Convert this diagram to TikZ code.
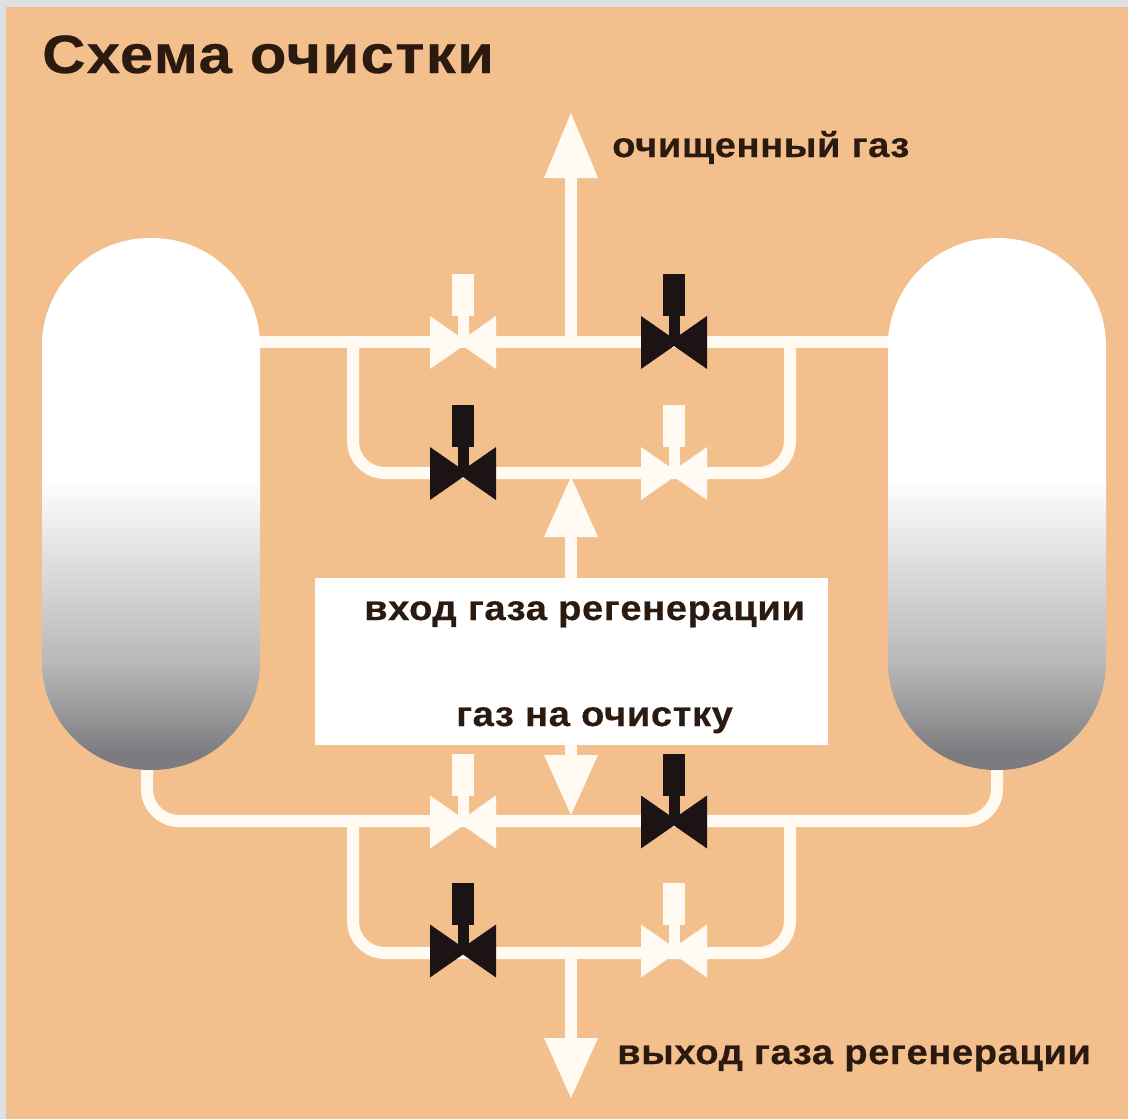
\documentclass[tikz,border=0pt]{standalone}
\usepackage{fontspec}
\setmainfont{Liberation Sans}
\newfontfamily\labelfont[FakeStretch=1.09,LetterSpace=1.7,FakeBold=0.4]{Liberation Sans Bold}
\newfontfamily\titlefont[FakeStretch=1.11,LetterSpace=2.4,FakeBold=0.4]{Liberation Sans Bold}
\definecolor{tankb}{HTML}{7C7C80}
\definecolor{tankc}{HTML}{B8B8B8}
\definecolor{tankd}{HTML}{E0E0E0}
\definecolor{peach}{HTML}{F3C08D}
\definecolor{frame}{HTML}{DDE1E3}
\definecolor{pipe}{HTML}{FFFAF2}
\definecolor{ink}{HTML}{2B1A10}
\definecolor{valvedark}{HTML}{1C1414}
\pgfdeclareverticalshading{tankshade}{100bp}{color(0bp)=(tankb); color(26.5bp)=(tankb); color(35bp)=(tankc); color(45bp)=(tankd); color(52.5bp)=(white); color(100bp)=(white)}
\tikzset{
  x=1pt,y=-1pt,
  vessel/.style={rounded corners=108pt,minimum width=218pt,minimum height=532pt,inner sep=0pt,shade,shading=tankshade},
  pipeline/.style={draw=pipe,line width=12pt},
  pipebend/.style={pipeline,rounded corners=32pt},
  txtlabel/.style={anchor=base west,inner sep=0pt,text=ink,font=\labelfont\fontsize{35}{40}\selectfont},
  arrowhd/.style={fill=pipe},
  pics/valve/.style={code={
    \fill[#1] (-33,-26) -- (0,-3) -- (33,-26) -- (33,27) -- (0,4) -- (-33,27) -- cycle;
    \fill[#1] (-5.5,-30) rectangle (5.5,2);
    \fill[#1] (-11,-68) rectangle (11,-26);
  }}
}
\begin{document}
\begin{tikzpicture}
\useasboundingbox (0,0) rectangle (1128,1119);
\fill[frame] (0,0) rectangle (1128,1119);
\fill[peach] (6,7) rectangle (1128,1119);
% fixed points
\coordinate (v1) at (463,342);
\coordinate (v2) at (674,342);
\coordinate (v3) at (463,473);
\coordinate (v4) at (674,473);
\coordinate (v5) at (463,821.5);
\coordinate (v6) at (674,821.5);
\coordinate (v7) at (463,950.5);
\coordinate (v8) at (674,950.5);
\coordinate (topT) at (571,342);
\coordinate (midT) at (571,473);
\coordinate (lowT) at (571,821);
\coordinate (botT) at (571,953);
\coordinate (topEnd) at (571,113);
\coordinate (botEnd) at (571,1098);
% pipes
\draw[pipebend] (147,760) -- (147,821) -- (997,821) -- (997,760);
\draw[pipeline] (151,342) -- (997,342);
\draw[pipebend] (353,342) -- (353,473) -- (790,473) -- (790,342);
\draw[pipebend] (353,821) -- (353,953) -- (790,953) -- (790,821);
\draw[pipeline] (topT) -- (571,170);
\draw[pipeline] (botT) -- (571,1045);
% tanks
\node[vessel] (tl) at (151,504) {};
\node[vessel] (tr) at (997,504) {};
% box
\node[fill=white,minimum width=513pt,minimum height=167pt,inner sep=0pt] (box) at (571.5,661.5) {};
\draw[pipeline] (box.north-|midT) -- (571,530);
\draw[pipeline] (box.south-|lowT) -- (571,765);
% arrow heads
\fill[arrowhd] (topEnd) -- (598,178) -- (544,178) -- cycle;
\fill[arrowhd] (571,477) -- (598,537) -- (544,537) -- cycle;
\fill[arrowhd] (571,815) -- (598,755) -- (544,755) -- cycle;
\fill[arrowhd] (botEnd) -- (598,1038) -- (544,1038) -- cycle;
% valves
\pic at (v1) {valve=pipe};
\pic at (v2) {valve=valvedark};
\pic at (v3) {valve=valvedark};
\pic at (v4) {valve=pipe};
\pic at (v5) {valve=pipe};
\pic at (v6) {valve=valvedark};
\pic at (v7) {valve=valvedark};
\pic at (v8) {valve=pipe};
% labels
\node[txtlabel,font=\titlefont\fontsize{54}{60}\selectfont] (title) at (42,73) {Схема очистки};
\node[txtlabel] (l1) at (612,157) {очищенный газ};
\node[txtlabel] (l2) at (364,620) {вход газа регенерации};
\node[txtlabel] (l3) at (456,726) {газ на очистку};
\node[txtlabel] (l4) at (617,1064) {выход газа регенерации};
\end{tikzpicture}
\end{document}
